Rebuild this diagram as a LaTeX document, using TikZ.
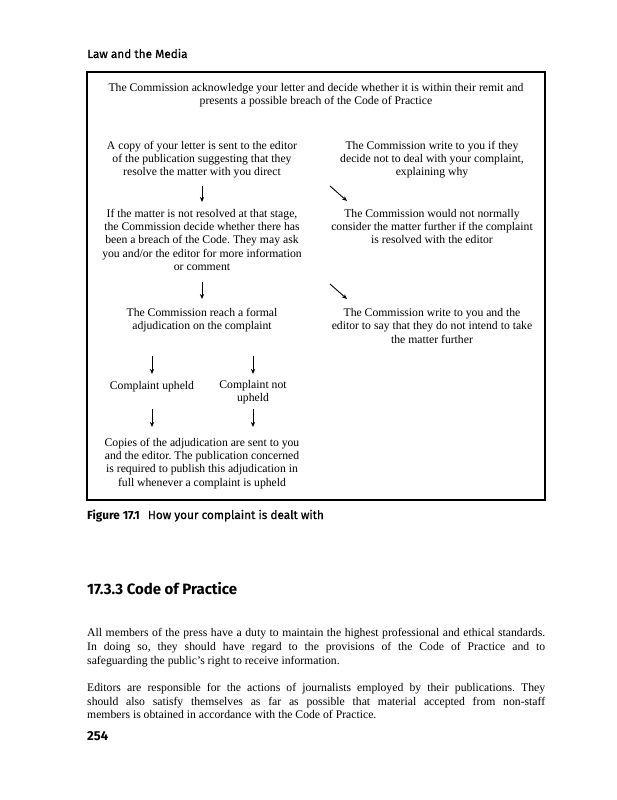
\documentclass[tikz,border=0pt]{standalone}
\usepackage{fontspec}
\setmainfont{Liberation Serif}
\newfontfamily\hsans{Fira Sans}
\newfontfamily\hsansmed[FakeBold=0.6]{Fira Sans}
\usetikzlibrary{arrows.meta}
\newcommand{\dfont}{\fontsize{11.7}{13.3}\selectfont}
\newcommand{\bfont}{\fontsize{11.7}{13.7}\selectfont}
\setlength{\parindent}{0pt}
\frenchspacing
\begin{document}
\begin{tikzpicture}[x=1pt,y=-1pt,
  dtext/.style={font=\dfont, align=center, inner sep=0pt, anchor=north, yshift=9.31pt, execute at begin node=\strut},
  sanstext/.style={inner sep=0pt, anchor=base west},
  darr/.style={line width=0.9pt, -{Stealth[length=5pt,width=4.2pt,inset=1.5pt]}},
  frame/.style={draw=black, line width=1.2pt}
]
\useasboundingbox (0,0) rectangle (616,800);
\fill[white] (0,0) rectangle (616,800);

% header
\node[sanstext, font=\hsansmed\fontsize{11.8}{13}\selectfont] (hdr) at (87,58) {Law and the Media};

% frame
\draw[frame] (87,72) rectangle (545,500);

% diagram texts
\node[dtext] (top) at (316,92) {The Commission acknowledge your letter and decide whether it is within their remit and\\presents a possible breach of the Code of Practice};

\node[dtext] (copy) at (202,150) {A copy of your letter is sent to the editor\\of the publication suggesting that they\\resolve the matter with you direct};
\node[dtext] (notdeal) at (432,150) {The Commission write to you if they\\decide not to deal with your complaint,\\explaining why};

\node[dtext] (ifmatter) at (202,218) {If the matter is not resolved at that stage,\\the Commission decide whether there has\\been a breach of the Code. They may ask\\you and/or the editor for more information\\or comment};
\node[dtext] (normally) at (432,218) {The Commission would not normally\\consider the matter further if the complaint\\is resolved with the editor};

\node[dtext] (reach) at (202,317.5) {The Commission reach a formal\\adjudication on the complaint};
\node[dtext] (nofurther) at (432,317.5) {The Commission write to you and the\\editor to say that they do not intend to take\\the matter further};

\node[dtext] (upheld) at (152,389) {Complaint upheld};
\node[dtext] (notupheld) at (253,389) {Complaint not\\upheld};

\node[dtext] (copies) at (202,447) {Copies of the adjudication are sent to you\\and the editor. The publication concerned\\is required to publish this adjudication in\\full whenever a complaint is upheld};

% arrows
\coordinate (a1s) at (202,186); \coordinate (a1e) at (202,202);
\coordinate (a2s) at (202,282); \coordinate (a2e) at (202,299);
\coordinate (a3s) at (152,356); \coordinate (a3e) at (152,374);
\coordinate (a4s) at (253,356); \coordinate (a4e) at (253,374);
\coordinate (a5s) at (152,409); \coordinate (a5e) at (152,427);
\coordinate (a6s) at (253,409); \coordinate (a6e) at (253,427);
\coordinate (d1s) at (330,186); \coordinate (d1e) at (347,201);
\coordinate (d2s) at (330,284); \coordinate (d2e) at (347,299);
\draw[darr] (a1s) -- (a1e);
\draw[darr] (a2s) -- (a2e);
\draw[darr] (a3s) -- (a3e);
\draw[darr] (a4s) -- (a4e);
\draw[darr] (a5s) -- (a5e);
\draw[darr] (a6s) -- (a6e);
\draw[darr] (d1s) -- (d1e);
\draw[darr] (d2s) -- (d2e);

% caption
\node[sanstext, font=\fontsize{11.8}{13}\selectfont] (cap) at (87,519) {{\hsans\bfseries Figure 17.1}\hspace{8pt}{\hsansmed How your complaint is dealt with}};

% section heading
\node[sanstext, font=\hsans\bfseries\fontsize{15}{17}\selectfont] (sec) at (87,594) {17.3.3 Code of Practice};

% body
\node[inner sep=0pt, anchor=north west, align=left, font=\bfont, yshift=9.59pt] (body) at (87,636.5) {%
\makebox[458pt][s]{\strut All members of the press have a duty to maintain the highest professional and ethical standards.}\\
\makebox[458pt][s]{In doing so, they should have regard to the provisions of the Code of Practice and to}\\
safeguarding the public’s right to receive information.\\[13.7pt]
\makebox[458pt][s]{Editors are responsible for the actions of journalists employed by their publications. They}\\
\makebox[458pt][s]{should also satisfy themselves as far as possible that material accepted from non-staff}\\
members is obtained in accordance with the Code of Practice.};

% page number
\node[sanstext, font=\hsans\bfseries\fontsize{13}{15}\selectfont] (pg) at (87,740) {254};
\end{tikzpicture}
\end{document}
